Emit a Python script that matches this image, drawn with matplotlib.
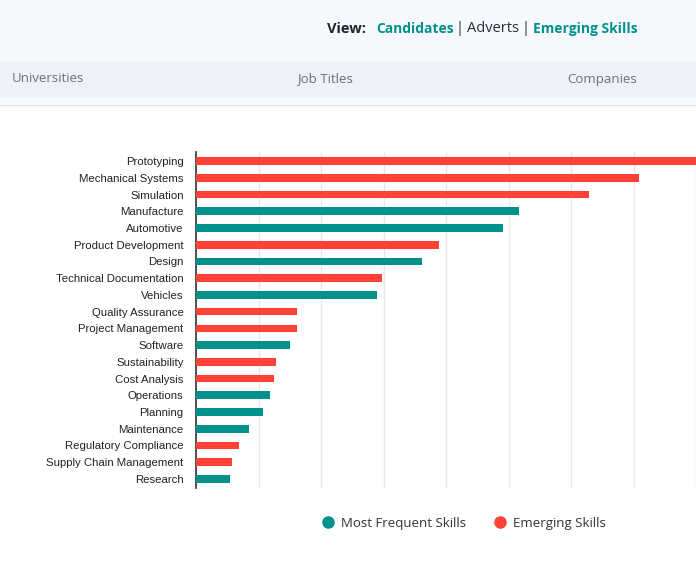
#grafico_habilidades
import matplotlib.pyplot as plt
from matplotlib.patches import Rectangle
from matplotlib.lines import Line2D

# Datos (de arriba a abajo)
skills = ["Prototyping", "Mechanical Systems", "Simulation", "Manufacture", "Automotive",
          "Product Development", "Design", "Technical Documentation", "Vehicles",
          "Quality Assurance", "Project Management", "Software", "Sustainability",
          "Cost Analysis", "Operations", "Planning", "Maintenance",
          "Regulatory Compliance", "Supply Chain Management", "Research"]
values = [8.1, 7.08, 6.29, 5.16, 4.91, 3.89, 3.61, 2.98, 2.89, 1.61, 1.61, 1.50,
          1.28, 1.24, 1.18, 1.07, 0.84, 0.69, 0.57, 0.54]
groups = ["E", "E", "E", "F", "F", "E", "F", "E", "F", "E", "E", "F",
          "E", "E", "F", "F", "F", "E", "E", "F"]

TEAL = "#00918d"
RED = "#ff4136"
colores = [TEAL if g == "F" else RED for g in groups]

W, H = 696, 561
fig = plt.figure(figsize=(W / 100, H / 100), dpi=100)
fig.patch.set_facecolor("white")

# Cabecera
fig.patches.append(Rectangle((0, 1 - 104 / H), 1, 104 / H, transform=fig.transFigure,
                             facecolor="#f7f8fc", edgecolor="none", zorder=0))
fig.patches.append(Rectangle((0, 1 - 97 / H), 1, 36 / H, transform=fig.transFigure,
                             facecolor="#eef1f5", edgecolor="none", zorder=0))
fig.lines.append(Line2D([0, 1], [1 - 104.5 / H] * 2, transform=fig.transFigure,
                        color="#e3e6ec", lw=1))

yv = 1 - 29 / H
fuente = "Open Sans"
fig.text(327 / W, yv, "View:", fontsize=10.5, fontweight="bold", color="#1f2330",
         va="center", family=fuente)
fig.text(376 / W, yv, "Candidates", fontsize=10, fontweight="bold", color=TEAL,
         va="center", family=fuente)
fig.text(455.5 / W, yv, "|", fontsize=10.5, color="#2b2f38", va="center", family=fuente)
fig.text(467 / W, yv, "Adverts", fontsize=10.5, color="#2b2f38", va="center", family=fuente)
fig.text(521.5 / W, yv, "|", fontsize=10.5, color="#2b2f38", va="center", family=fuente)
fig.text(533 / W, yv, "Emerging Skills", fontsize=10, fontweight="bold", color=TEAL,
         va="center", family=fuente)

yt = 1 - 79 / H
fig.text(12 / W, yt, "Universities", fontsize=9.5, color="#6b717c", va="center", family=fuente)
fig.text(325 / W, yt, "Job Titles", fontsize=9.5, color="#6b717c", va="center",
         ha="center", family=fuente)
fig.text(637 / W, yt, "Companies", fontsize=9.5, color="#6b717c", va="center",
         ha="right", family=fuente)

# Grafico de barras
ax = fig.add_axes([196 / W, 1 - 488 / H, 1 - 196 / W, 336 / H])
ax.barh(range(len(skills)), values, height=0.46, color=colores, zorder=3)
ax.set_xlim(0, 8)
ax.set_ylim(len(skills) - 0.46, -0.54)
ax.set_yticks(range(len(skills)))
ax.set_yticklabels(skills, family="Liberation Sans", fontsize=8.2, color="#222222")
ax.set_xticks(range(0, 9))
ax.set_xticklabels([])
ax.tick_params(axis="both", length=0)
ax.tick_params(axis="y", pad=9)
ax.grid(axis="x", color="#e8e8e8", lw=1, zorder=0)
for s in ["top", "right", "bottom"]:
    ax.spines[s].set_visible(False)
ax.spines["left"].set_color("#333333")
ax.spines["left"].set_linewidth(1.2)

# Leyenda
handles = [Line2D([], [], marker="o", ls="none", color=TEAL, markersize=8),
           Line2D([], [], marker="o", ls="none", color=RED, markersize=8)]
fig.legend(handles, ["Most Frequent Skills", "Emerging Skills"], ncol=2, frameon=False,
           loc="center", bbox_to_anchor=(460 / W, 1 - 523 / H), handletextpad=0.0,
           columnspacing=1.55, prop={"family": fuente, "size": 9.5},
           labelcolor="#333333")

plt.savefig("out.png", dpi=100)
